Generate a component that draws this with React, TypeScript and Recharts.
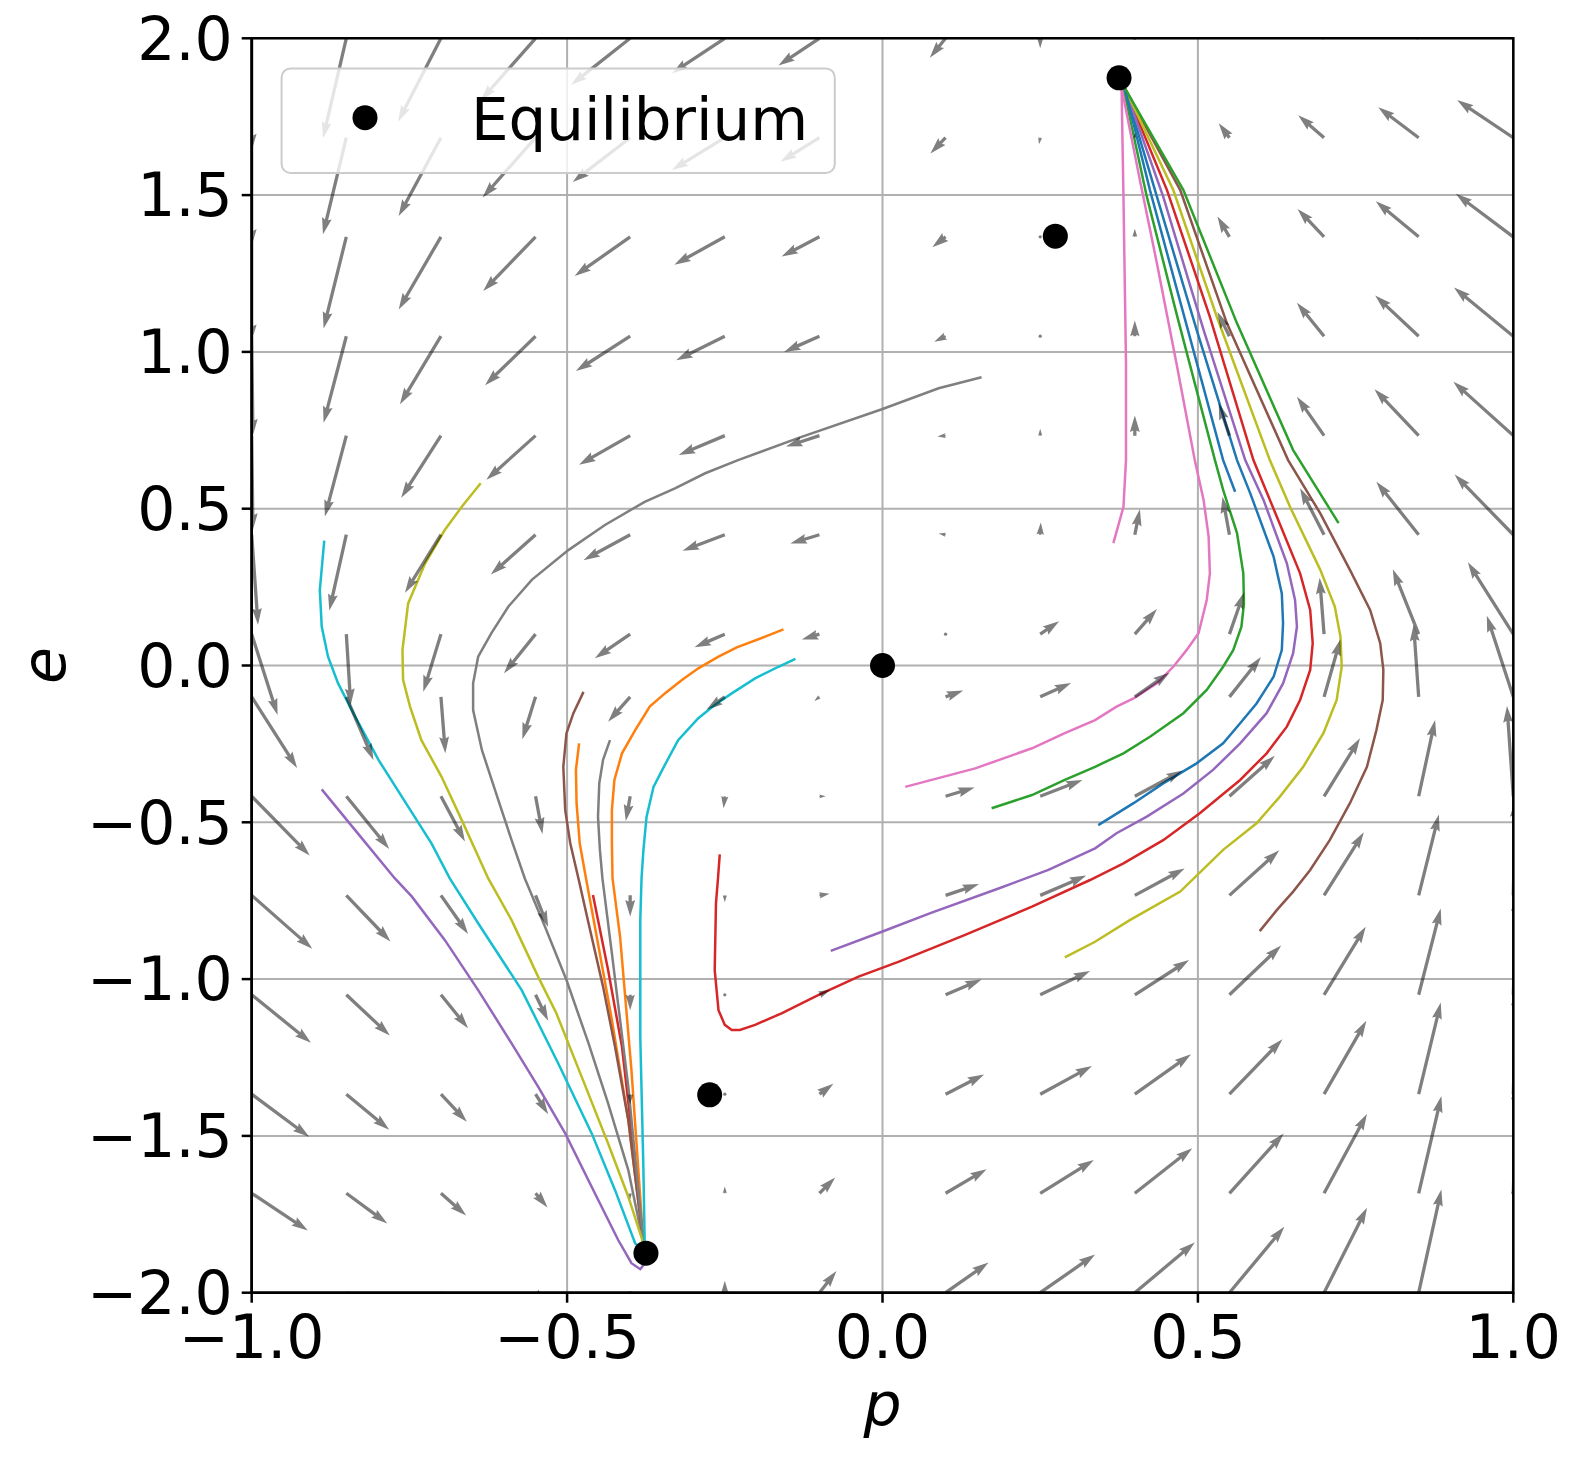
import React from 'react';
import { ComposedChart, XAxis, YAxis, CartesianGrid, Line, Scatter, ReferenceArea } from 'recharts';

const W = 1577;
const H = 1457;
const PLOT = { left: 251.7, top: 38.3, right: 1513.3, bottom: 1292.7 };
const PX_PER_P = (PLOT.right - PLOT.left) / 2;
const PX_PER_E = (PLOT.bottom - PLOT.top) / 4;

const xTicks = [-1, -0.5, 0, 0.5, 1];
const yTicks = [-2, -1.5, -1, -0.5, 0, 0.5, 1, 1.5, 2];

// quiver grid (tails) and drawn arrow components, in data units, rows from top
const gridP = [-1, -0.85, -0.7, -0.55, -0.4, -0.25, -0.1, 0.1, 0.25, 0.4, 0.55, 0.7, 0.85, 1];
const gridE = [2, 1.683, 1.367, 1.05, 0.733, 0.417, 0.1, -0.1, -0.417, -0.733, -1.05, -1.367, -1.683, -2];

const arrowU = [
  [0, -0.037, -0.068, -0.087, -0.094, -0.084, -0.065, -0.025, 0, 0, -0.005, -0.04, -0.063, -0.089],
  [0, -0.037, -0.067, -0.084, -0.091, -0.084, -0.062, -0.024, -0.002, 0, -0.017, -0.041, -0.064, -0.089],
  [0, -0.036, -0.067, -0.083, -0.088, -0.08, -0.06, -0.021, -0.001, 0, -0.019, -0.042, -0.068, -0.091],
  [0.002, -0.036, -0.065, -0.08, -0.086, -0.077, -0.056, -0.018, 0, 0, -0.019, -0.043, -0.069, -0.094],
  [0.002, -0.034, -0.063, -0.078, -0.081, -0.073, -0.053, -0.013, 0, 0, -0.017, -0.043, -0.07, -0.095],
  [0.01, -0.027, -0.057, -0.071, -0.074, -0.067, -0.046, -0.011, 0.001, 0.008, -0.011, -0.038, -0.067, -0.093],
  [0.041, 0.007, -0.028, -0.05, -0.056, -0.048, -0.028, -0.003, 0.03, 0.035, 0.023, -0.007, -0.041, -0.072],
  [0.072, 0.043, 0.007, -0.021, -0.035, -0.029, -0.008, 0.028, 0.049, 0.055, 0.05, 0.026, -0.008, -0.042],
  [0.092, 0.068, 0.038, 0.011, -0.007, -0.002, 0.01, 0.046, 0.067, 0.076, 0.072, 0.057, 0.026, -0.01],
  [0.096, 0.07, 0.043, 0.02, 0, 0, 0.016, 0.053, 0.073, 0.079, 0.079, 0.063, 0.032, 0.003],
  [0.094, 0.069, 0.043, 0.02, 0, 0, 0.017, 0.057, 0.079, 0.086, 0.082, 0.066, 0.035, 0.005],
  [0.091, 0.068, 0.041, 0.02, 0, 0, 0.022, 0.061, 0.082, 0.089, 0.084, 0.067, 0.035, 0.005],
  [0.089, 0.065, 0.04, 0.019, 0, 0, 0.025, 0.065, 0.085, 0.091, 0.086, 0.068, 0.036, 0.005],
  [0.087, 0.063, 0.038, 0.017, 0, 0, 0.027, 0.068, 0.087, 0.095, 0.087, 0.068, 0.036, 0.005],
];

const arrowV = [
  [-0.357, -0.319, -0.266, -0.198, -0.149, -0.112, -0.087, -0.062, -0.032, 0.006, 0.019, 0.051, 0.08, 0.102],
  [-0.344, -0.308, -0.25, -0.191, -0.141, -0.103, -0.077, -0.05, -0.021, 0.016, 0.046, 0.072, 0.097, 0.12],
  [-0.332, -0.292, -0.232, -0.173, -0.125, -0.089, -0.063, -0.033, -0.002, 0.026, 0.065, 0.089, 0.113, 0.137],
  [-0.316, -0.276, -0.217, -0.156, -0.111, -0.077, -0.05, -0.018, 0.006, 0.05, 0.077, 0.107, 0.13, 0.155],
  [-0.3, -0.258, -0.198, -0.141, -0.093, -0.062, -0.035, -0.003, 0.022, 0.064, 0.103, 0.124, 0.148, 0.172],
  [-0.287, -0.242, -0.185, -0.127, -0.081, -0.051, -0.028, 0.004, 0.039, 0.081, 0.121, 0.148, 0.169, 0.192],
  [-0.258, -0.226, -0.184, -0.125, -0.077, -0.042, -0.017, -0.003, 0.041, 0.08, 0.133, 0.18, 0.207, 0.229],
  [-0.227, -0.201, -0.18, -0.135, -0.079, -0.041, -0.013, 0.02, 0.044, 0.077, 0.127, 0.184, 0.23, 0.259],
  [-0.189, -0.168, -0.144, -0.12, -0.079, -0.038, 0, 0.028, 0.052, 0.082, 0.129, 0.185, 0.243, 0.288],
  [-0.17, -0.147, -0.123, -0.101, -0.067, -0.022, 0.005, 0.036, 0.063, 0.086, 0.144, 0.201, 0.258, 0.303],
  [-0.153, -0.13, -0.107, -0.083, -0.049, -0.001, 0.016, 0.049, 0.076, 0.111, 0.157, 0.217, 0.275, 0.319],
  [-0.136, -0.113, -0.088, -0.064, -0.032, 0, 0.033, 0.063, 0.09, 0.127, 0.175, 0.234, 0.292, 0.335],
  [-0.119, -0.096, -0.071, -0.045, -0.019, 0.022, 0.05, 0.077, 0.106, 0.144, 0.191, 0.253, 0.31, 0.351],
  [-0.102, -0.08, -0.054, -0.026, -0.006, 0.038, 0.069, 0.096, 0.122, 0.16, 0.21, 0.271, 0.329, 0.367],
];

const eqP = [0, 0.274, -0.274, 0.375, -0.375];
const eqE = [0, 1.369, -1.369, 1.874, -1.874];

// trajectories [p, e], from initial point to the attracting equilibrium
const blueA = [[0.342,-0.509],[0.398,-0.439],[0.445,-0.376],[0.498,-0.312],[0.54,-0.248],[0.567,-0.184],[0.593,-0.121],[0.62,-0.036],[0.633,0.049],[0.635,0.135],[0.633,0.23],[0.62,0.347],[0.583,0.549],[0.562,0.655],[0.498,1.07],[0.435,1.495],[0.384,1.842],[0.375,1.874]];
const orangeB = [[-0.157,0.115],[-0.186,0.092],[-0.231,0.058],[-0.26,0.028],[-0.292,-0.009],[-0.318,-0.046],[-0.345,-0.089],[-0.369,-0.131],[-0.392,-0.206],[-0.413,-0.28],[-0.425,-0.365],[-0.429,-0.461],[-0.429,-0.567],[-0.428,-0.679],[-0.416,-0.865],[-0.398,-1.29],[-0.379,-1.843],[-0.375,-1.874]];
const greenA = [[0.173,-0.455],[0.237,-0.413],[0.289,-0.365],[0.337,-0.323],[0.382,-0.28],[0.424,-0.227],[0.477,-0.152],[0.514,-0.078],[0.54,-0.004],[0.556,0.049],[0.569,0.124],[0.573,0.198],[0.572,0.294],[0.562,0.422],[0.54,0.56],[0.527,0.655],[0.466,1.123],[0.419,1.495],[0.382,1.842],[0.375,1.874]];
const redR = [[-0.258,-0.602],[-0.261,-0.684],[-0.264,-0.758],[-0.266,-0.971],[-0.26,-1.099],[-0.25,-1.146],[-0.239,-1.162],[-0.226,-1.162],[-0.202,-1.146],[-0.16,-1.109],[-0.102,-1.051],[-0.038,-0.992],[0.025,-0.945],[0.131,-0.859],[0.237,-0.769],[0.329,-0.684],[0.382,-0.631],[0.445,-0.557],[0.503,-0.471],[0.567,-0.365],[0.609,-0.28],[0.641,-0.195],[0.662,-0.11],[0.678,-0.014],[0.682,0.071],[0.678,0.177],[0.662,0.294],[0.625,0.475],[0.588,0.655],[0.519,1.112],[0.451,1.516],[0.384,1.842],[0.375,1.874]];
const purpleR = [[-0.082,-0.91],[-0.001,-0.849],[0.078,-0.788],[0.184,-0.711],[0.263,-0.652],[0.337,-0.583],[0.371,-0.535],[0.419,-0.482],[0.477,-0.408],[0.524,-0.333],[0.567,-0.248],[0.609,-0.152],[0.635,-0.057],[0.651,0.039],[0.657,0.124],[0.654,0.209],[0.641,0.326],[0.604,0.528],[0.575,0.655],[0.509,1.07],[0.445,1.495],[0.384,1.842],[0.375,1.874]];
const brownR = [[0.598,-0.847],[0.625,-0.78],[0.651,-0.721],[0.678,-0.652],[0.709,-0.557],[0.741,-0.439],[0.768,-0.323],[0.783,-0.206],[0.793,-0.11],[0.794,-0.014],[0.789,0.071],[0.773,0.177],[0.741,0.305],[0.694,0.485],[0.643,0.655],[0.546,1.091],[0.472,1.516],[0.384,1.842],[0.375,1.874]];
const pinkB = [[0.036,-0.387],[0.147,-0.328],[0.237,-0.264],[0.289,-0.216],[0.337,-0.174],[0.371,-0.131],[0.398,-0.105],[0.435,-0.057],[0.461,-0.004],[0.482,0.049],[0.501,0.103],[0.514,0.209],[0.519,0.294],[0.517,0.411],[0.509,0.528],[0.495,0.655],[0.466,0.964],[0.435,1.283],[0.408,1.548],[0.379,1.842],[0.375,1.874]];
const grayA = [[0.157,0.919],[0.089,0.884],[-0.001,0.817],[-0.134,0.725],[-0.229,0.655],[-0.281,0.613],[-0.329,0.565],[-0.377,0.522],[-0.44,0.448],[-0.498,0.368],[-0.556,0.273],[-0.593,0.188],[-0.62,0.103],[-0.641,0.028],[-0.649,-0.057],[-0.649,-0.142],[-0.635,-0.27],[-0.609,-0.429],[-0.588,-0.557],[-0.567,-0.679],[-0.535,-0.833],[-0.501,-1.003],[-0.466,-1.205],[-0.435,-1.396],[-0.403,-1.609],[-0.379,-1.843],[-0.375,-1.874]];
const oliveR = [[0.289,-0.931],[0.337,-0.881],[0.392,-0.812],[0.472,-0.721],[0.54,-0.588],[0.593,-0.503],[0.63,-0.418],[0.667,-0.323],[0.699,-0.216],[0.72,-0.11],[0.728,-0.004],[0.726,0.092],[0.717,0.188],[0.694,0.305],[0.646,0.506],[0.614,0.655],[0.53,1.112],[0.461,1.516],[0.384,1.842],[0.375,1.874]];
const cyanA = [[-0.885,0.398],[-0.892,0.241],[-0.889,0.124],[-0.879,0.028],[-0.863,-0.057],[-0.836,-0.163],[-0.799,-0.301],[-0.752,-0.45],[-0.715,-0.567],[-0.686,-0.679],[-0.641,-0.822],[-0.572,-1.035],[-0.514,-1.269],[-0.461,-1.492],[-0.424,-1.673],[-0.392,-1.843],[-0.375,-1.874]];
const blueB = [[0.559,0.554],[0.54,0.655],[0.477,1.123],[0.424,1.516],[0.384,1.842],[0.375,1.874]];
const orangeA = [[-0.481,-0.248],[-0.486,-0.333],[-0.485,-0.439],[-0.48,-0.567],[-0.47,-0.679],[-0.453,-0.865],[-0.429,-1.13],[-0.403,-1.449],[-0.379,-1.843],[-0.375,-1.874]];
const greenB = [[0.723,0.454],[0.651,0.687],[0.562,1.091],[0.477,1.516],[0.384,1.842],[0.375,1.874]];
const redL = [[-0.459,-0.732],[-0.435,-0.971],[-0.413,-1.216],[-0.398,-1.481],[-0.379,-1.843],[-0.375,-1.874]];
const purpleL = [[-0.889,-0.395],[-0.836,-0.525],[-0.773,-0.679],[-0.746,-0.737],[-0.694,-0.875],[-0.641,-1.035],[-0.588,-1.205],[-0.546,-1.343],[-0.503,-1.492],[-0.456,-1.683],[-0.419,-1.832],[-0.398,-1.906],[-0.384,-1.925],[-0.379,-1.912],[-0.375,-1.874]];
const brownL = [[-0.474,-0.084],[-0.49,-0.152],[-0.501,-0.216],[-0.506,-0.323],[-0.503,-0.461],[-0.495,-0.567],[-0.482,-0.679],[-0.466,-0.822],[-0.443,-1.024],[-0.424,-1.216],[-0.403,-1.449],[-0.379,-1.843],[-0.375,-1.874]];
const pinkA = [[0.366,0.39],[0.382,0.506],[0.386,0.655],[0.386,0.964],[0.382,1.495],[0.379,1.841],[0.375,1.874]];
const grayB = [[-0.432,-0.238],[-0.443,-0.301],[-0.449,-0.376],[-0.451,-0.482],[-0.448,-0.588],[-0.444,-0.679],[-0.429,-0.918],[-0.403,-1.343],[-0.379,-1.843],[-0.375,-1.874]];
const oliveL = [[-0.637,0.581],[-0.667,0.506],[-0.694,0.432],[-0.725,0.326],[-0.752,0.198],[-0.761,0.049],[-0.76,-0.046],[-0.749,-0.131],[-0.731,-0.238],[-0.699,-0.355],[-0.667,-0.493],[-0.625,-0.679],[-0.588,-0.812],[-0.546,-0.992],[-0.517,-1.109],[-0.477,-1.311],[-0.435,-1.524],[-0.403,-1.694],[-0.379,-1.843],[-0.375,-1.874]];
const cyanB = [[-0.138,0.021],[-0.165,-0.004],[-0.202,-0.041],[-0.239,-0.089],[-0.266,-0.126],[-0.292,-0.168],[-0.324,-0.238],[-0.345,-0.317],[-0.363,-0.387],[-0.374,-0.482],[-0.379,-0.588],[-0.382,-0.679],[-0.384,-0.812],[-0.384,-1.184],[-0.379,-1.609],[-0.377,-1.843],[-0.375,-1.874]];

const trajectories = [blueA, orangeB, greenA, redR, purpleR, brownR, pinkB, grayA, oliveR, cyanA,
  blueB, orangeA, greenB, redL, purpleL, brownL, pinkA, grayB, oliveL, cyanB];
const tab10 = ['#1f77b4', '#ff7f0e', '#2ca02c', '#d62728', '#9467bd', '#8c564b', '#e377c2', '#7f7f7f', '#bcbd22', '#17becf'];

const quiverData = gridE.flatMap((e, j) => gridP.map((p, i) => ({ p, e, u: arrowU[j][i], v: arrowV[j][i] })));
const eqData = eqP.map((p, i) => ({ p, e: eqE[i] }));

const FONT = 'DejaVu Sans';
const SHAFT = 3.3;

// matplotlib-style quiver arrow, tail at the grid point
function QuiverArrow(props: any) {
  const { cx, cy, payload } = props;
  if (cx == null || cy == null) return null;
  const dx = payload.u * PX_PER_P;
  const dy = -payload.v * PX_PER_E;
  const len = Math.hypot(dx, dy) / SHAFT;
  if (len < 1) {
    return <circle cx={cx} cy={cy} r={SHAFT * 0.5} fill="#000" fillOpacity={0.5} />;
  }
  const ang = (Math.atan2(dy, dx) * 180) / Math.PI;
  let pts: number[][];
  if (len < 5) {
    const s = len / 5;
    pts = [[0, 0.5], [0.5, 0.5], [0, 1.5], [5, 0], [0, -1.5], [0.5, -0.5], [0, -0.5]].map(([x, y]) => [x * s, y * s]);
  } else {
    pts = [[0, 0.5], [len - 4.5, 0.5], [len - 5, 1.5], [len, 0], [len - 5, -1.5], [len - 4.5, -0.5], [0, -0.5]];
  }
  const d = pts.map(([x, y]) => `${(x * SHAFT).toFixed(2)},${(y * SHAFT).toFixed(2)}`).join(' ');
  return <polygon points={d} transform={`translate(${cx},${cy}) rotate(${ang})`} fill="#000" fillOpacity={0.5} />;
}

const EqDot = (props: any) => (props.cx == null ? null : <circle cx={props.cx} cy={props.cy} r={12.5} fill="#000" />);

const fmt = (v: number) => v.toFixed(1).replace('-', '\u2212');

export default function App() {
  return (
    <div style={{ position: 'absolute', left: 0, top: 0, width: W, height: H, background: '#fff' }}>
      <ComposedChart width={W} height={H} margin={{ top: 38.3, right: 63.7, left: 21.7, bottom: 44.3 }}>
        <CartesianGrid stroke="#b0b0b0" strokeWidth={2} />
        <XAxis
          type="number"
          dataKey="p"
          domain={[-1, 1]}
          ticks={xTicks}
          interval={0}
          allowDataOverflow
          height={120}
          tickFormatter={fmt}
          tick={{ fontSize: 60, fill: '#000', fontFamily: FONT }}
          tickLine={{ stroke: '#000', strokeWidth: 2.5 }}
          axisLine={{ stroke: '#000', strokeWidth: 2.5 }}
          tickSize={10}
          tickMargin={13}
        />
        <YAxis
          type="number"
          dataKey="e"
          domain={[-2, 2]}
          ticks={yTicks}
          interval={0}
          allowDataOverflow
          width={230}
          tickFormatter={fmt}
          tick={{ fontSize: 60, fill: '#000', fontFamily: FONT }}
          tickLine={{ stroke: '#000', strokeWidth: 2.5 }}
          axisLine={{ stroke: '#000', strokeWidth: 2.5 }}
          tickSize={10}
          tickMargin={9}
        />
        {trajectories.map((t, i) => (
          <Line
            key={`traj-${i}`}
            data={t.map(([p, e]) => ({ p, e }))}
            dataKey="e"
            type="linear"
            stroke={tab10[i % tab10.length]}
            strokeWidth={2.5}
            dot={false}
            activeDot={false}
            isAnimationActive={false}
          />
        ))}
        <Scatter data={quiverData} dataKey="e" shape={QuiverArrow} isAnimationActive={false} />
        <Scatter data={eqData} dataKey="e" shape={EqDot} isAnimationActive={false} />
        <ReferenceArea x1={-1} x2={1} y1={-2} y2={2} fill="none" stroke="#000" strokeWidth={2.5} />
      </ComposedChart>
      <svg width={W} height={H} style={{ position: 'absolute', left: 0, top: 0, pointerEvents: 'none' }}>
        <rect x={281.6} y={68.4} width={553.2} height={104.6} rx={9} fill="#fff" fillOpacity={0.8} stroke="#cccccc" strokeWidth={2} />
        <circle cx={365} cy={117.7} r={12.5} fill="#000" />
        <text x={471} y={140} fontSize={59.5} fontFamily={FONT} fill="#000">Equilibrium</text>
        <text x={882.5} y={1426} fontSize={60} fontFamily={FONT} fontStyle="italic" textAnchor="middle" fill="#000">p</text>
        <text transform="translate(65,665.5) rotate(-90)" fontSize={60} fontFamily={FONT} fontStyle="italic" textAnchor="middle" fill="#000">e</text>
      </svg>
    </div>
  );
}
